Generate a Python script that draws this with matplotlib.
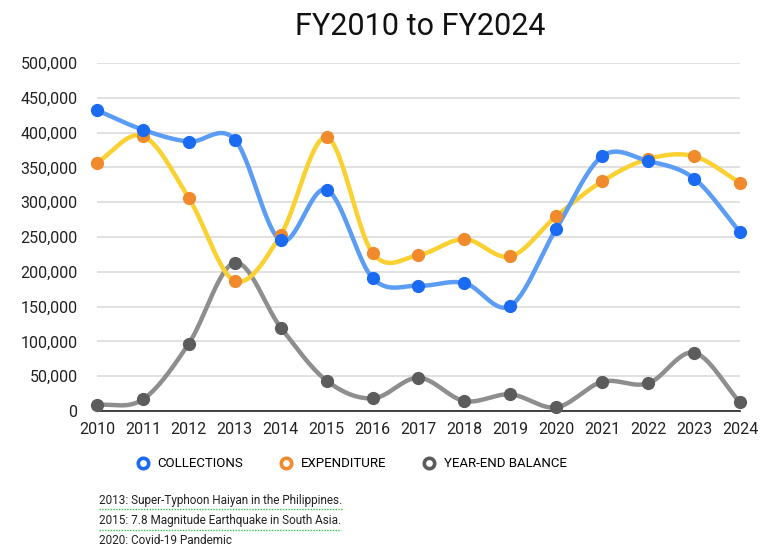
import matplotlib
matplotlib.use('Agg')
import matplotlib.pyplot as plt
from matplotlib.lines import Line2D
from matplotlib.ticker import FuncFormatter
import numpy as np

plt.rcParams['font.family'] = ['Roboto', 'DejaVu Sans']

years = list(range(2010, 2025))
collections = [432000, 404000, 387000, 390000, 245000, 318000, 191000, 180000,
               184000, 151000, 262000, 366000, 359000, 334000, 257000]
expenditure = [357000, 395000, 306000, 187000, 253000, 393000, 227000, 224000,
               247000, 222000, 280000, 330000, 362000, 366000, 328000]
balance = [8600, 16800, 97000, 213000, 120000, 43600, 18200, 47900,
           14400, 24000, 5300, 42100, 39800, 83800, 12500]
notes = ["2013: Super-Typhoon Haiyan in the Philippines.",
         "2015: 7.8 Magnitude Earthquake in South Asia.",
         "2020: Covid-19 Pandemic"]


def smooth(x, y, n=30):
    # catmull-rom curve through the points, only for drawing
    x = np.asarray(x, float)
    y = np.asarray(y, float)
    px = np.concatenate([[2 * x[0] - x[1]], x, [2 * x[-1] - x[-2]]])
    py = np.concatenate([[2 * y[0] - y[1]], y, [2 * y[-1] - y[-2]]])
    xs, ys = [], []
    t = np.linspace(0, 1, n)
    for i in range(1, len(px) - 2):
        for p, out in ((px, xs), (py, ys)):
            p0, p1, p2, p3 = p[i - 1], p[i], p[i + 1], p[i + 2]
            out.append(0.5 * (2 * p1 + (-p0 + p2) * t +
                              (2 * p0 - 5 * p1 + 4 * p2 - p3) * t ** 2 +
                              (-p0 + 3 * p1 - 3 * p2 + p3) * t ** 3))
    return np.concatenate(xs), np.concatenate(ys)


fig = plt.figure(figsize=(7.71, 5.57), dpi=100)
ax = fig.add_axes([0.1258, 0.262, 0.834, 0.625])

series = [
    (collections, '#5b9cf5', '#1a6af2', 'COLLECTIONS'),
    (expenditure, '#fbd031', '#f08a2c', 'EXPENDITURE'),
    (balance, '#8e8e8e', '#5c5c5c', 'YEAR-END BALANCE'),
]
for vals, lc, mc, name in series[::-1]:
    sx, sy = smooth(years, vals)
    ax.plot(sx, sy, color=lc, lw=3.2, solid_capstyle='round', zorder=3,
            clip_on=False)
    ax.plot(years, vals, 'o', color=mc, ms=8.5, zorder=4, clip_on=False)

ax.set_xlim(2010, 2024)
ax.set_ylim(0, 500000)
ax.set_xticks(years)
ax.set_yticks(range(0, 500001, 50000))
ax.yaxis.set_major_formatter(FuncFormatter(lambda v, p: '{:,}'.format(int(v))))
ax.grid(axis='y', color='#dcdcdc', lw=1.2)
ax.set_axisbelow(True)
for s in ['top', 'right', 'left']:
    ax.spines[s].set_visible(False)
ax.spines['bottom'].set_color('#222222')
ax.spines['bottom'].set_linewidth(1.2)
ax.tick_params(length=0, labelsize=11.5, colors='#222222')
ax.tick_params(axis='x', pad=8)
ax.tick_params(axis='y', pad=14)

fig.text(0.545, 0.953, 'FY2010 to FY2024', ha='center', va='center',
         fontsize=22, color='#111111')

handles = [Line2D([], [], ls='none', marker='o', ms=7.5, mfc='white',
                  mec=mc, mew=2.6) for _, _, mc, _ in series]
fig.legend(handles, [s[3] for s in series], loc='center',
           bbox_to_anchor=(0.456, 0.167), ncol=3, frameon=False,
           fontsize=9.5, handletextpad=0.6, columnspacing=2.75,
           handlelength=1.0)

for i, t in enumerate(notes):
    y = 0.101 - i * 0.036
    txt = fig.text(0.128, y, t, fontsize=8.5, color='#222222',
                   ha='left', va='center')
    if i < 2:
        # spell-check style dotted underline seen in the source
        fig.draw_without_rendering()
        bb = txt.get_window_extent().transformed(fig.transFigure.inverted())
        fig.add_artist(Line2D([bb.x0, bb.x1], [bb.y0 - 0.004, bb.y0 - 0.004],
                              transform=fig.transFigure, color='#3cc44a',
                              lw=1.0, ls=(0, (1, 1))))

fig.savefig('out.png', dpi=100)
